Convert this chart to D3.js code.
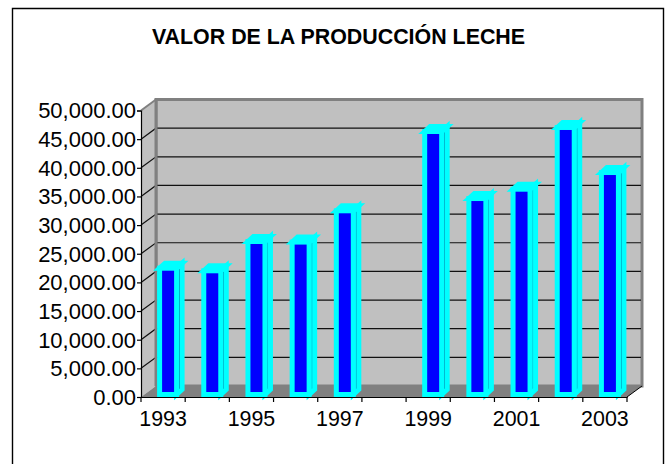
<!DOCTYPE html>
<html><head><meta charset="utf-8"><style>html,body{margin:0;padding:0;background:#fff}svg{display:block}text{font-family:"Liberation Sans",Arial,sans-serif;fill:#000}</style></head><body><svg id="c" width="670" height="464"></svg>
<script src="https://cdn.jsdelivr.net/npm/d3@7"></script>
<script>
const chartTitle = "VALOR DE LA PRODUCCIÓN LECHE";
const years = [1993,1994,1995,1996,1997,1998,1999,2000,2001,2002,2003];
const values = [22040,21590,26700,26600,32060,null,45900,34200,35830,46600,38740];
const yTicks = [0,5000,10000,15000,20000,25000,30000,35000,40000,45000,50000];
const xLabels = [1993,1995,1997,1999,2001,2003];

const svg = d3.select("#c");
const dx = 15, dy = -11;
const x = d3.scaleBand().domain(years).range([141,627]).paddingInner(0).paddingOuter(0);
const y = d3.scaleLinear().domain([0,50000]).range([397,110.5]);
const pts = a => a.map(p=>p.join(",")).join(" ");
const fmt = d3.format(",.2f");
const fontFam = '"Liberation Sans",Arial,sans-serif';

// frame: open at the bottom, it runs off the picture
svg.append("polyline").attr("points",pts([[12.5,470],[12.5,8.5],[663.5,8.5],[663.5,470]])).attr("fill","none").attr("stroke","#000").attr("stroke-width",1.4);

svg.append("text").attr("x",338.5).attr("y",44).attr("text-anchor","middle").attr("font-size",21.4).attr("font-weight","bold").text(chartTitle);

const x0=x.range()[0], x1=x.range()[1], y0=y(0), yT=y(50000);
// walls
svg.append("polygon").attr("points",pts([[x0+dx,yT+dy],[x1+dx,yT+dy],[x1+dx,y0+dy],[x0+dx,y0+dy]])).attr("fill","#c0c0c0").attr("stroke","#808080").attr("stroke-width",3);
svg.append("polygon").attr("points",pts([[x0,yT],[x0+dx,yT+dy],[x0+dx,y0+dy],[x0,y0]])).attr("fill","#c0c0c0");
// grid
yTicks.slice(1,-1).forEach(t=>{
  svg.append("polyline").attr("points",pts([[x0,y(t)],[x0+dx,y(t)+dy],[x1+dx-1,y(t)+dy]])).attr("fill","none").attr("stroke","#111").attr("stroke-width",1.2);
});
// wall edge redraw + floor
svg.append("line").attr("x1",x0+dx).attr("x2",x0+dx).attr("y1",yT+dy).attr("y2",y0+dy).attr("stroke","#808080").attr("stroke-width",3);
svg.append("line").attr("x1",x0).attr("x2",x0+dx).attr("y1",yT).attr("y2",yT+dy).attr("stroke","#808080").attr("stroke-width",2);
svg.append("polygon").attr("points",pts([[x0,y0],[x0+dx,y0+dy],[x1+dx,y0+dy],[x1,y0]])).attr("fill","#808080");
svg.append("line").attr("x1",x1).attr("x2",x1+dx).attr("y1",y0).attr("y2",y0+dy).attr("stroke","#000").attr("stroke-width",1);

// bars
const ins = 2.5, bw = 17, sd = 5.5, su = 5, shift = 5;
const g = svg.append("g").attr("stroke","#00ffff").attr("stroke-width",5).attr("stroke-linejoin","miter").attr("stroke-miterlimit",6);
years.forEach((yr,i)=>{
  const v = values[i]; if(v==null) return;
  const l = x(yr)+x.bandwidth()/2-bw/2+shift, r=l+bw, b=y0-ins, t=y(v)-ins;
  g.append("polygon").attr("points",pts([[r,t],[r+sd,t-su],[r+sd,b-su],[r,b]])).attr("fill","#006090");
  g.append("polygon").attr("points",pts([[l,t],[l+sd,t-su],[r+sd,t-su],[r,t]])).attr("fill","#0000ff");
  g.append("rect").attr("x",l).attr("y",t).attr("width",bw).attr("height",b-t).attr("fill","#0000ff");
});

// axes
const ax = d3.axisLeft(y).tickValues(yTicks).tickSize(4).tickPadding(1).tickFormat(fmt);
const ay = svg.append("g").attr("transform",`translate(${x0},0)`).call(ax);
ay.selectAll("text").attr("font-size",22).attr("font-family",fontFam).attr("dy","0.34em");
ay.selectAll("line,path").attr("stroke","#000").attr("stroke-width",1.2);
const bx = d3.axisBottom(x).tickValues(xLabels).tickSize(0).tickPadding(14).tickFormat(d3.format("d"));
const ag = svg.append("g").attr("transform",`translate(0,${y0})`).call(bx);
ag.selectAll("text").attr("font-size",21.4).attr("font-family",fontFam);
ag.selectAll("path").attr("stroke","#000").attr("stroke-width",1.2);
ag.selectAll(".edge").data(d3.range(12)).enter().append("line").attr("class","edge")
  .attr("x1",i=>x0+i*x.step()).attr("x2",i=>x0+i*x.step()).attr("y1",0).attr("y2",5).attr("stroke","#000").attr("stroke-width",1.2);
</script></body></html>
